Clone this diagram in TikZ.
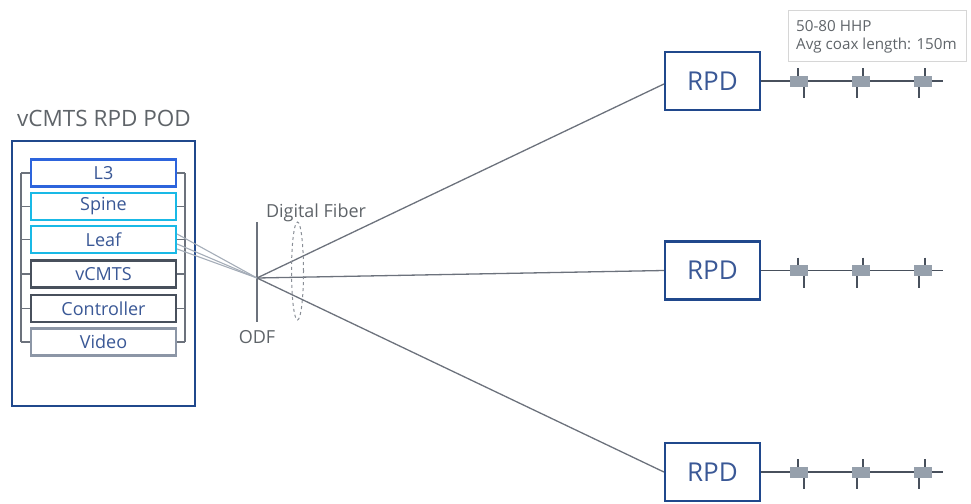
\documentclass[tikz,border=0pt]{standalone}
\usepackage{fontspec}
\setmainfont{Open Sans}
\usetikzlibrary{calc,shapes.geometric}
\definecolor{navy}{RGB}{32,72,140}
\definecolor{lthree}{RGB}{45,100,220}
\definecolor{cyanb}{RGB}{25,185,230}
\definecolor{darkg}{RGB}{72,80,92}
\definecolor{lightg}{RGB}{140,150,166}
\definecolor{txtblue}{RGB}{58,88,150}
\definecolor{titleg}{RGB}{95,100,105}
\definecolor{lineg}{RGB}{108,114,124}
\definecolor{fiberg}{RGB}{165,173,184}
\definecolor{tapg}{RGB}{150,160,172}
\definecolor{boxg}{RGB}{214,214,214}
\tikzset{
  modbox/.style={draw=#1, line width=2.2pt, minimum width=145, minimum height=27, inner sep=0pt,
    font=\fontsize{18}{20}\selectfont, text=txtblue},
  rpdbox/.style={draw=navy, line width=2.2pt, minimum width=95, minimum height=58, inner sep=0pt,
    font=\fontsize{26}{28}\selectfont, text=txtblue},
  bracket/.style={draw=lineg, line width=1.4pt},
  fiber/.style={draw=lineg, line width=1.3pt},
  leafline/.style={draw=fiberg, line width=1.1pt},
  coax/.style={draw=darkg, line width=1.3pt},
  tap/.style={fill=tapg, draw=none, minimum width=18, minimum height=11, inner sep=0pt},
  lbl/.style={text=titleg, font=\fontsize{18}{20}\selectfont, inner sep=0pt},
}
\begin{document}
\begin{tikzpicture}[x=1pt,y=-1pt]
\useasboundingbox (0,0) rectangle (971,503);
% POD
\node[lbl, font=\fontsize{22.5}{24}\selectfont] (title) at (104,118) {vCMTS RPD POD};
\node[draw=navy, line width=2.2pt, minimum width=183, minimum height=265, inner sep=0pt] (pod) at (103.5,273.5) {};
\coordinate (bl1) at (21,173);
\coordinate (bl2) at (21,342);
\coordinate (br1) at (185,173);
\coordinate (br2) at (185,342);
\draw[bracket] (bl1) -- (bl2);
\draw[bracket] (br1) -- (br2);
\foreach \n/\t/\c/\y in {l3/L3/lthree/173, spine/Spine/cyanb/206.5, leaf/Leaf/cyanb/239.5,
  vcmts/vCMTS/darkg/274, ctrl/Controller/darkg/308.5, video/Video/lightg/342}{
  \draw[bracket] (21,\y) -- (31,\y);
  \draw[bracket] (176,\y) -- (185,\y);
  \node[modbox=\c, fill=white] (\n) at (103.5,\y) {\t};
}
% ODF
\coordinate (odf) at (257,278);
\coordinate (odft) at (257,222);
\coordinate (odfb) at (257,322);
\draw[fiber] (odft) -- (odfb);
\node[lbl] (odflbl) at (257,337) {ODF};
\draw[leafline] ($(leaf.east)+(0,-5.5)$) -- (odf);
\draw[leafline] ($(leaf.east)+(0,4.5)$) -- (odf);
\draw[leafline] ($(leaf.east)+(0,9.5)$) -- (odf);
% RPDs
\node[rpdbox] (r1) at (712.5,81) {RPD};
\node[rpdbox] (r2) at (712.5,270.5) {RPD};
\node[rpdbox] (r3) at (712.5,472) {RPD};
\draw[fiber] (odf) -- ($(r1.west)+(0,3)$);
\draw[fiber] (odf) -- (r2.west);
\draw[fiber] (odf) -- (r3.west);
% Digital fiber
\node[draw=lineg!80, dashed, line width=1pt, ellipse, minimum width=12, minimum height=98, inner sep=0pt] (fib) at (297.5,271) {};
\node[lbl] (fiblbl) at (316,213) {Digital Fiber};
% coax
\foreach \r in {r1,r2,r3}{
  \coordinate (\r e) at ($(\r.east)+(182,0)$);
  \draw[coax] (\r.east) -- (\r e);
  \foreach \dx/\u/\d [count=\i] in {38/-1/5, 100/2/-4, 162/2/-4}{
    \draw[coax] ($(\r.east)+(\dx+\u,-13)$) -- ++(0,13);
    \draw[coax] ($(\r.east)+(\dx+\d,0)$) -- ++(0,17);
    \node[tap] (\r t\i) at ($(\r.east)+(\dx,0)$) {};
  }
}
% label box
\node[draw=boxg, line width=1pt, minimum width=178, minimum height=51, inner sep=0pt] (hhp) at (877,36.5) {};
\node[anchor=west, align=left, inner sep=0pt, text=titleg, font=\fontsize{15.2}{18.5}\selectfont] (hhptxt) at (796,37) {50-80 HHP\\Avg coax length: 150m};
\end{tikzpicture}
\end{document}
